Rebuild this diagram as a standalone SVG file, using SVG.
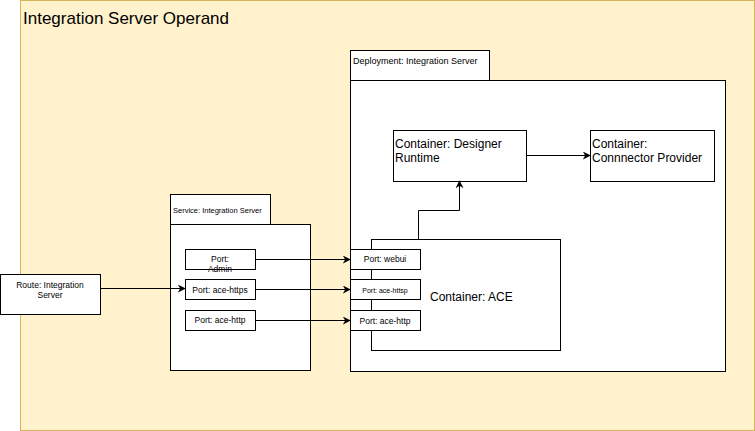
<svg xmlns="http://www.w3.org/2000/svg" width="755" height="431" viewBox="0 0 755 431">
<style>
.b{fill:#fff;stroke:#000;stroke-width:1}
text{font-family:"Liberation Sans",Arial,sans-serif;fill:#000}
.s{font-size:9px}
.m{font-size:12px}
.c{stroke:#000;stroke-width:1;fill:none;marker-end:url(#a)}
</style>
<defs><marker id="a" viewBox="0 0 10 10" refX="9" refY="5" markerWidth="8" markerHeight="8" orient="auto" markerUnits="userSpaceOnUse"><path d="M0,0 L10,5 L0,10 L3,5 z" fill="#000"/></marker></defs>
<g id="operand"><rect x="20.5" y="0.5" width="734" height="430" fill="#fff2cc" stroke="#d6b656"/><text x="23" y="24" font-size="17">Integration Server Operand</text></g>
<g id="deployment"><rect class="b" x="350.5" y="50.5" width="139" height="30"/><text class="s" x="353" y="64">Deployment: Integration Server</text><rect class="b" x="350.5" y="80.5" width="375" height="291"/></g>
<g id="designer"><rect class="b" x="393.5" y="130.5" width="133" height="51"/><text class="m" x="395" y="148">Container: Designer</text><text class="m" x="395" y="162">Runtime</text></g>
<g id="provider"><rect class="b" x="590.5" y="130.5" width="124" height="51"/><text class="m" x="592" y="148">Container:</text><text class="m" x="592" y="162">Connnector Provider</text></g>
<g id="ace"><rect class="b" x="371.5" y="239.5" width="189" height="111"/><text class="m" x="430" y="301">Container: ACE</text></g>
<g id="service"><rect class="b" x="170.5" y="194.5" width="100" height="30"/><text x="173" y="213" font-size="7.5">Service: Integration Server</text><rect class="b" x="170.5" y="224.5" width="140" height="146"/></g>
<g id="route"><rect class="b" x="0.5" y="274.5" width="100" height="40"/><text x="50" y="288" font-size="8.5" text-anchor="middle">Route: Integration</text><text x="50" y="298" font-size="8.5" text-anchor="middle">Server</text></g>
<g id="port-admin"><rect class="b" x="185.5" y="249.5" width="70" height="20"/><text x="220" y="262" font-size="8.5" text-anchor="middle">Port:</text><text x="220" y="272" font-size="8.5" text-anchor="middle">Admin</text></g>
<g id="port-https"><rect class="b" x="185.5" y="279.5" width="70" height="20"/><text x="220" y="293" font-size="8.5" text-anchor="middle">Port: ace-https</text></g>
<g id="port-http"><rect class="b" x="185.5" y="310.5" width="70" height="20"/><text x="220" y="323" font-size="8.5" text-anchor="middle">Port: ace-http</text></g>
<g id="port-webui"><rect class="b" x="350.5" y="249.5" width="70" height="20"/><text x="385" y="262" font-size="8.5" text-anchor="middle">Port: webui</text></g>
<g id="port-httsp"><rect class="b" x="350.5" y="279.5" width="70" height="20"/><text x="385" y="293" font-size="7" text-anchor="middle">Port: ace-httsp</text></g>
<g id="port-http2"><rect class="b" x="350.5" y="310.5" width="70" height="20"/><text x="385" y="324" font-size="8.5" text-anchor="middle">Port: ace-http</text></g>
<g id="connectors">
<path class="c" d="M100.5,288.5 H185"/>
<path class="c" d="M255.5,259.5 H350"/>
<path class="c" d="M255.5,289.5 H350"/>
<path class="c" d="M255.5,320.5 H350"/>
<path class="c" d="M418.5,239 V210.5 H459.5 V181"/>
<path class="c" d="M526.5,155.5 H590"/>
</g>
</svg>
